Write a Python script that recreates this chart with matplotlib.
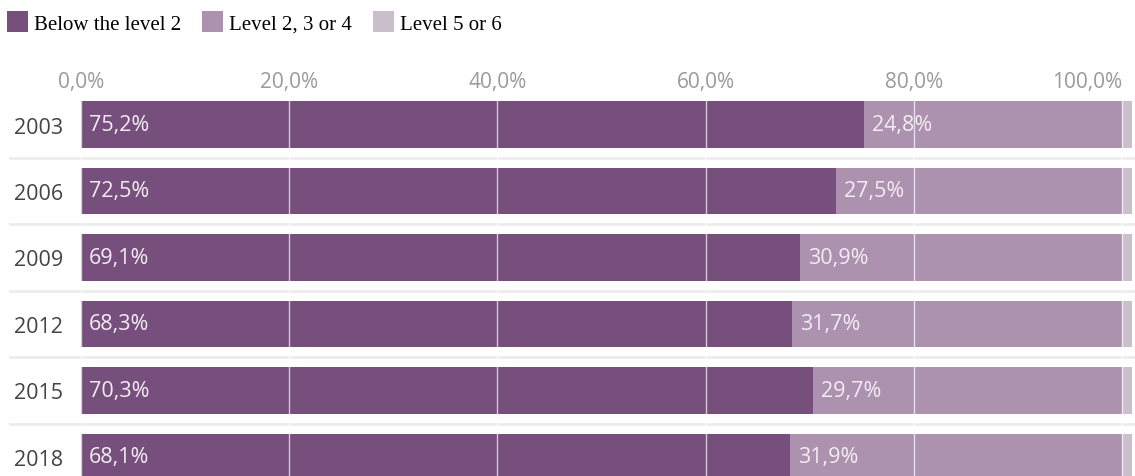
import matplotlib
matplotlib.use("Agg")
import matplotlib.pyplot as plt
from matplotlib.patches import Patch
from matplotlib.transforms import blended_transform_factory

years = ["2003", "2006", "2009", "2012", "2015", "2018"]
below2 = [75.2, 72.5, 69.1, 68.3, 70.3, 68.1]
level234 = [24.8, 27.5, 30.9, 31.7, 29.7, 31.9]
level56 = [1.0, 1.0, 1.0, 1.0, 1.0, 1.0]
series_names = ["Below the level 2", "Level 2, 3 or 4", "Level 5 or 6"]
colors = ["#774f7c", "#ad92b0", "#cbbfcd"]
xticks = [0, 20, 40, 60, 80, 100]
xticklabels = ["0,0%", "20,0%", "40,0%", "60,0%", "80,0%", "100,0%"]

W, H = 1135, 477
fig = plt.figure(figsize=(W / 100, H / 100), dpi=100)
left_px, right100_px = 81, 1122
top_px = 92
xmax = 101
ax = fig.add_axes([left_px / W, 0, (right100_px - left_px) * xmax / 100 / W, (H - top_px) / H])

ypos = list(range(len(years)))
h = 0.7
ax.barh(ypos, below2, height=h, color=colors[0], zorder=1)
ax.barh(ypos, level234, left=below2, height=h, color=colors[1], zorder=1)
lefts3 = [a + b for a, b in zip(below2, level234)]
ax.barh(ypos, level56, left=lefts3, height=h, color=colors[2], zorder=1)

for y, a, b in zip(ypos, below2, level234):
    ax.text(0.75, y, f"{a:.1f}%".replace(".", ","), va="center", ha="left",
            color="#f3ecf3", fontsize=15.5, family="Open Sans", zorder=3)
    ax.text(a + 0.75, y, f"{b:.1f}%".replace(".", ","), va="center", ha="left",
            color="#f3ecf3", fontsize=15.5, family="Open Sans", zorder=3)

ax.set_xlim(0, xmax)
row_px = 66.5
c0 = 125.5
ax.set_ylim((H - c0) / row_px, (top_px - c0) / row_px)

ax.xaxis.tick_top()
ax.set_xticks(xticks)
labs = ax.set_xticklabels(xticklabels, fontsize=15, color="#9a9a9a", family="Open Sans")
labs[-1].set_horizontalalignment("right")
ax.set_yticks(ypos)
ax.set_yticklabels(years, fontsize=15.5, color="#444444", family="Open Sans")
ax.tick_params(axis="both", length=0)
ax.tick_params(axis="x", pad=-1)
ax.tick_params(axis="y", pad=13)
ax.grid(axis="x", color="white", linewidth=1.0, alpha=0.7, zorder=2)
ax.set_axisbelow(False)
for s in ax.spines.values():
    s.set_visible(False)

tr = blended_transform_factory(fig.transFigure, ax.transData)
for y in ypos[:-1]:
    ax.plot([10 / W, 1.0], [y + 0.5, y + 0.5], color="#ececec", linewidth=2,
            transform=tr, clip_on=False, zorder=0)

handles = [Patch(facecolor=c, edgecolor="none") for c in colors]
fig.legend(handles, series_names, loc="upper left", bbox_to_anchor=(-0.002, 0.994),
           ncol=3, frameon=False, prop={"family": "Liberation Serif", "size": 15},
           handlelength=1.0, handleheight=1.15, handletextpad=0.3,
           columnspacing=1.0, borderaxespad=0.25, borderpad=0.2)

fig.savefig("out.png", dpi=100)
